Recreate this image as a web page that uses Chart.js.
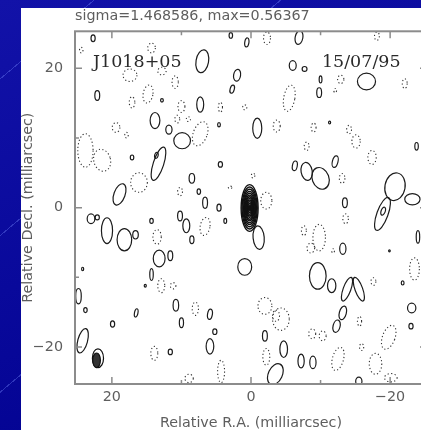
<!DOCTYPE html>
<html>
<head>
<meta charset="utf-8">
<script src="https://cdn.jsdelivr.net/npm/chart.js@4.4.0/dist/chart.umd.min.js"></script>
<style>
  html, body { margin: 0; width: 421px; height: 430px; overflow: hidden; }
  body {
    background:
      repeating-linear-gradient(140deg, rgba(120,140,255,0) 0 60px, rgba(120,140,255,0.35) 60px 61px, rgba(120,140,255,0) 61px 120px),
      linear-gradient(160deg, #1212a8, #00008e);
  }
  #panel { position: absolute; left: 21px; top: 8px; width: 410px; height: 422px; background: #fff; }
</style>
</head>
<body>
<div id="panel"><canvas id="map" width="410" height="422"></canvas></div>
<script>
// axis ticks (milliarcsec)
const raTicks = [20, 0, -20];
const decTicks = [20, 0, -20];
const minorTicks = [10, -10];

// solid (positive) contours: [RA, Dec, half-width, half-height, tilt deg]
const positiveContours = [
  [7.0, 21.0, 0.9, 1.65, 10], [2.0, 19.0, 0.5, 0.85, 10], [2.7, 17.0, 0.3, 0.6, 15],
  [0.6, 23.7, 0.3, 0.65, 10], [2.9, 24.7, 0.25, 0.4, 0], [12.8, 15.4, 0.2, 0.25, 0],
  [7.3, 14.8, 0.5, 1.1, 0], [13.8, 12.5, 0.7, 1.15, 0], [11.8, 11.2, 0.45, 0.65, 0],
  [9.9, 9.6, 1.2, 1.15, 0], [4.6, 11.9, 0.2, 0.3, 0], [-0.9, 11.4, 0.65, 1.45, 0],
  [22.7, 24.3, 0.3, 0.5, 0], [22.1, 16.1, 0.35, 0.7, 0], [17.1, 7.2, 0.25, 0.35, 0],
  [18.9, 1.9, 0.8, 1.6, 20], [23.0, -1.6, 0.55, 0.7, 0], [22.1, -1.4, 0.3, 0.35, 0],
  [20.7, -3.3, 0.8, 1.85, 0], [18.2, -4.6, 1.05, 1.6, 0], [16.6, -3.9, 0.4, 0.6, 0],
  [24.2, -8.8, 0.15, 0.25, 0], [13.3, 6.3, 0.75, 2.5, 18], [13.6, 7.5, 0.25, 0.45, 15],
  [4.4, 6.2, 0.3, 0.4, 0], [8.5, 4.2, 0.4, 0.7, 0], [7.5, 2.3, 0.25, 0.4, 0],
  [6.6, 0.7, 0.35, 0.8, 0], [4.6, 0.0, 0.3, 0.5, 0], [3.7, -1.9, 0.2, 0.35, 0],
  [10.2, -1.2, 0.35, 0.7, 0], [9.3, -2.6, 0.5, 1.0, 0], [14.3, -1.9, 0.25, 0.35, 0],
  [8.5, -4.6, 0.3, 0.55, 0], [13.2, -7.3, 0.85, 1.2, 0], [11.6, -6.9, 0.35, 0.7, 0],
  [14.3, -9.6, 0.25, 0.85, 0], [0.9, -8.5, 1.0, 1.2, 0], [-1.1, -4.3, 0.8, 1.7, -5],
  [-6.3, 6.0, 0.35, 0.7, 10], [-8.0, 5.2, 0.8, 1.3, -10], [-10.0, 4.2, 1.2, 1.6, -20],
  [-12.1, 6.6, 0.4, 0.85, 15], [-13.5, 0.7, 0.35, 0.7, 0], [-20.7, 3.0, 1.45, 2.0, 10],
  [-18.9, -0.9, 0.8, 2.5, 20], [-19.0, -0.5, 0.3, 0.6, 20], [-23.2, 1.2, 1.1, 0.8, 0],
  [-24.0, -4.2, 0.25, 0.9, 0], [-13.2, -5.9, 0.45, 0.8, 0], [-9.6, -9.8, 1.2, 1.9, 0],
  [-11.6, -11.2, 0.6, 1.0, 0], [-13.8, -11.7, 0.55, 1.8, 20], [-15.5, -11.7, 0.55, 1.8, -20],
  [-21.8, -10.8, 0.2, 0.3, 0], [-23.1, -14.4, 0.6, 0.7, 0], [-23.0, -17.0, 0.3, 0.4, 0],
  [-13.2, -15.1, 0.5, 1.0, 15], [-12.3, -17.0, 0.5, 0.9, 15], [-4.7, -20.3, 0.55, 1.2, 0],
  [-3.5, -23.9, 1.0, 1.6, 25], [-7.2, -22.0, 0.45, 1.0, 0], [-8.9, -22.2, 0.45, 0.9, 0],
  [-15.5, -24.9, 0.45, 0.6, 0], [10.8, -14.0, 0.4, 0.85, 0], [16.5, -15.1, 0.25, 0.6, 10],
  [5.9, -15.3, 0.35, 0.75, 10], [10.0, -16.5, 0.3, 0.7, 0], [5.2, -17.8, 0.3, 0.4, 0],
  [-2.0, -18.4, 0.35, 0.75, 0], [5.9, -19.9, 0.55, 1.1, 0], [11.6, -20.7, 0.3, 0.4, 0],
  [-6.9, 24.4, 0.55, 1.0, 10], [-6.0, 20.4, 0.5, 0.7, 0], [-7.7, 19.9, 0.35, 0.35, 0],
  [-16.6, 18.1, 1.3, 1.2, 0], [-10.0, 18.4, 0.2, 0.5, 0], [-9.8, 16.5, 0.35, 0.7, 0],
  [-23.8, 8.8, 0.25, 0.55, 0], [24.8, -12.7, 0.4, 1.1, 0], [23.8, -14.7, 0.25, 0.35, 0],
  [24.2, -19.1, 0.7, 1.8, 15], [19.9, -16.7, 0.3, 0.45, 0], [15.2, -11.2, 0.15, 0.2, 0],
  [-11.3, 12.2, 0.15, 0.2, 0], [-19.9, -6.2, 0.12, 0.15, 0]
];

// dotted (negative) contours: [RA, Dec, half-width, half-height, tilt deg]
const negativeContours = [
  [-2.3, 24.3, 0.5, 0.9, 0], [14.3, 22.9, 0.55, 0.7, 0], [12.8, 19.6, 0.6, 0.55, 0],
  [10.9, 18.0, 0.45, 0.9, 0], [14.8, 16.3, 0.7, 1.3, 10], [10.0, 14.5, 0.5, 0.85, 0],
  [4.4, 14.4, 0.3, 0.7, 0], [0.9, 14.4, 0.3, 0.35, 0], [10.6, 12.7, 0.35, 0.55, 0],
  [9.0, 12.7, 0.3, 0.35, 0], [7.3, 10.6, 1.0, 1.8, 20], [-3.7, 11.7, 0.5, 0.85, 0],
  [17.1, 15.1, 0.4, 0.8, 0], [24.4, 22.6, 0.25, 0.4, 0], [17.4, 19.0, 1.0, 0.9, 0],
  [19.4, 11.5, 0.55, 0.7, 0], [17.9, 10.4, 0.25, 0.4, 0], [23.8, 8.2, 1.1, 2.4, 0],
  [21.4, 6.8, 1.2, 1.6, -15], [16.1, 3.6, 1.2, 1.4, 0], [-0.3, 4.6, 0.25, 0.35, 0],
  [10.2, 2.3, 0.35, 0.6, 0], [-2.2, 1.0, 0.8, 1.2, 0], [13.5, -4.2, 0.6, 1.05, 0],
  [6.6, -2.7, 0.7, 1.3, 10], [-17.4, 7.2, 0.6, 1.0, 0], [-13.1, 4.2, 0.4, 0.7, 0],
  [-13.6, -1.6, 0.4, 0.7, 0], [-7.6, -3.3, 0.35, 0.7, 0], [-9.8, -4.3, 0.9, 1.9, 0],
  [-8.6, -5.8, 0.55, 0.7, 0], [-23.5, -8.8, 0.7, 1.6, 0], [-17.6, -10.6, 0.35, 0.55, 0],
  [-4.3, -16.0, 1.2, 1.6, 0], [-8.8, -18.1, 0.5, 0.7, 0], [-10.3, -18.4, 0.5, 0.7, 0],
  [-15.6, -16.3, 0.3, 0.7, 0], [-19.8, -18.6, 0.9, 1.8, 20], [-12.5, -21.7, 0.8, 1.7, 15],
  [-17.9, -22.4, 0.9, 1.5, 0], [-20.1, -24.4, 0.9, 0.6, 0], [-15.9, -20.0, 0.3, 0.5, 0],
  [12.9, -11.2, 0.5, 1.0, 0], [11.2, -11.2, 0.4, 0.45, 0], [8.0, -14.5, 0.45, 0.95, 0],
  [-2.0, -14.1, 1.0, 1.2, 0], [-3.6, -15.5, 0.5, 0.8, 0], [13.9, -20.9, 0.5, 1.0, 0],
  [-2.2, -21.4, 0.5, 1.2, 0], [4.3, -23.5, 0.5, 1.6, 0], [8.9, -24.5, 0.6, 0.6, 0],
  [-18.1, 24.6, 0.35, 0.6, 0], [-12.9, 18.4, 0.45, 0.6, 0], [-22.1, 17.8, 0.35, 0.7, 0],
  [-5.5, 15.7, 0.8, 1.9, 10], [-9.0, 11.5, 0.35, 0.65, 0], [-14.1, 11.2, 0.35, 0.6, 0],
  [-15.1, 9.5, 0.6, 0.95, 0], [-8.0, 8.8, 0.35, 0.6, 0], [-12.1, 16.8, 0.2, 0.3, 0],
  [3.0, 2.9, 0.25, 0.2, 0], [-11.8, -6.2, 0.2, 0.3, 0]
];

// core component: [RA, Dec, half-width, half-height, tilt] and relative sizes of its nested contours
const corePeak = [0.2, -0.05, 1.22, 3.35, 0];
const coreLevels = [1, 0.9, 0.8, 0.71, 0.63, 0.55, 0.48, 0.41, 0.34, 0.27, 0.2, 0.13, 0.07];

// restoring beam (bottom left)
const beamShape = [22.2, -21.9, 0.55, 1.05, 0];
const beamOutline = [22.0, -21.6, 0.8, 1.35, 0];

const labelFont = { family: "'DejaVu Sans'", size: 14.3, weight: 'normal', lineHeight: 1 };
const textGrey = '#5e5e5e';
const minusSign = v => String(v).replace('-', '\u2212');

const contourPlugin = {
  id: 'contours',
  afterDatasetsDraw(chart) {
    const { ctx, chartArea: a, scales: { x, y } } = chart;
    const kx = Math.abs(x.getPixelForValue(1) - x.getPixelForValue(0));
    const ky = Math.abs(y.getPixelForValue(1) - y.getPixelForValue(0));
    const trace = (c, f = 1) => {
      ctx.beginPath();
      ctx.ellipse(x.getPixelForValue(c[0]), y.getPixelForValue(c[1]),
        c[2] * kx * f, c[3] * ky * f, (c[4] || 0) * Math.PI / 180, 0, 2 * Math.PI);
    };

    ctx.save();
    ctx.beginPath();
    ctx.rect(a.left, a.top, a.right - a.left, a.bottom - a.top);
    ctx.clip();

    ctx.strokeStyle = '#1c1c1c';
    ctx.lineWidth = 1.2;
    positiveContours.forEach(c => { trace(c); ctx.stroke(); });
    ctx.strokeStyle = '#111';
    ctx.lineWidth = 1.4;
    coreLevels.forEach(f => { trace(corePeak, f); ctx.stroke(); });

    // beam
    ctx.lineWidth = 1.2;
    trace(beamOutline); ctx.stroke();
    ctx.fillStyle = '#333';
    trace(beamShape); ctx.fill(); ctx.stroke();

    ctx.setLineDash([1.2, 2.3]);
    ctx.lineWidth = 1.1;
    ctx.strokeStyle = '#333';
    negativeContours.forEach(c => { trace(c); ctx.stroke(); });
    ctx.setLineDash([]);
    ctx.restore();

    // frame with inward ticks
    ctx.save();
    ctx.strokeStyle = '#8c8c8c';
    ctx.lineWidth = 2;
    ctx.strokeRect(a.left, a.top, a.right - a.left, a.bottom - a.top);
    ctx.lineWidth = 1.5;
    const tick = (v, len) => {
      const px = x.getPixelForValue(v), py = y.getPixelForValue(v);
      ctx.beginPath();
      ctx.moveTo(px, a.bottom); ctx.lineTo(px, a.bottom - len);
      ctx.moveTo(px, a.top); ctx.lineTo(px, a.top + len);
      ctx.moveTo(a.left, py); ctx.lineTo(a.left + len, py);
      ctx.moveTo(a.right, py); ctx.lineTo(a.right - len, py);
      ctx.stroke();
    };
    raTicks.forEach(v => tick(v, 7));
    minorTicks.forEach(v => tick(v, 4));

    // source name and date
    ctx.fillStyle = '#2a2a2a';
    ctx.font = "17.5px 'DejaVu Serif'";
    ctx.textBaseline = 'middle';
    ctx.textAlign = 'left';
    ctx.fillText('J1018+05', x.getPixelForValue(22.7), y.getPixelForValue(20.9));
    ctx.fillText('15/07/95', x.getPixelForValue(-10.2), y.getPixelForValue(20.9));
    ctx.restore();
  }
};

new Chart(document.getElementById('map').getContext('2d'), {
  type: 'scatter',
  data: {
    datasets: [{ data: [{ x: corePeak[0], y: corePeak[1] }], pointRadius: 0 }]
  },
  options: {
    responsive: false,
    animation: false,
    layout: { padding: { top: 0, right: 4, bottom: 0, left: 0 } },
    plugins: {
      legend: { display: false },
      tooltip: { enabled: false },
      title: {
        display: true,
        text: 'sigma=1.468586, max=0.56367',
        align: 'start',
        fullSize: false,
        color: textGrey,
        font: labelFont,
        padding: { top: 1, bottom: 8 }
      }
    },
    scales: {
      x: {
        type: 'linear',
        reverse: true,
        min: -25.3,
        max: 25.3,
        afterBuildTicks: s => { s.ticks = raTicks.map(v => ({ value: v })); },
        afterFit: s => { s.height = 46; },
        grid: { display: false, drawTicks: false },
        border: { display: false },
        ticks: { color: textGrey, font: labelFont, padding: 6, maxRotation: 0, callback: minusSign },
        title: { display: true, text: 'Relative R.A. (milliarcsec)', color: textGrey, font: labelFont, padding: 0 }
      },
      y: {
        type: 'linear',
        min: -25.3,
        max: 25.3,
        afterBuildTicks: s => { s.ticks = decTicks.map(v => ({ value: v })); },
        afterFit: s => { s.width = 54; },
        grid: { display: false, drawTicks: false },
        border: { display: false },
        ticks: { color: textGrey, font: labelFont, padding: 12, callback: minusSign },
        title: { display: true, text: 'Relative Decl. (milliarcsec)', color: textGrey, font: labelFont, padding: 0 }
      }
    }
  },
  plugins: [contourPlugin]
});
</script>
</body>
</html>
